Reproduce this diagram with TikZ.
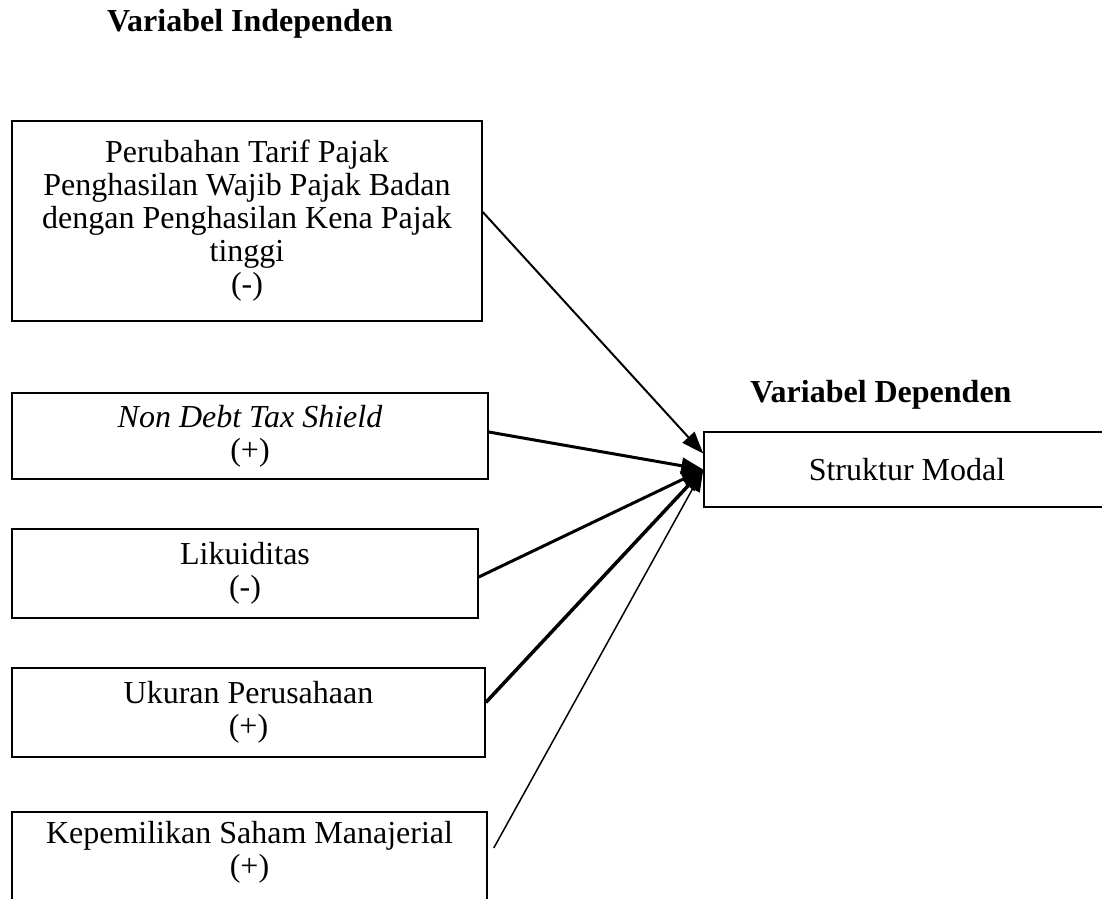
\documentclass[tikz,border=0pt]{standalone}
\usepackage{fontspec}
\setmainfont{Liberation Serif}
\usetikzlibrary{arrows.meta}

\begin{document}
\begin{tikzpicture}[x=1pt,y=-1pt,
  varbox/.style={draw, line width=1.5pt, align=center, inner sep=0pt, font=\fontsize{32}{33}\selectfont},
  head/.style={font=\fontsize{32}{33}\selectfont\bfseries},
  link/.style={-{Triangle[length=22pt,width=16pt]}}]
  \useasboundingbox (0,0) rectangle (1102,898);
  \clip (0,0) rectangle (1102,898);
  \node[head] (indep) at (250,24) {Variabel Independen};
  \node[head] (dep) at (881,395) {Variabel Dependen};
  \node[varbox, minimum width=470pt, minimum height=200pt] (pajak) at (247,221)
    {Perubahan Tarif Pajak\\Penghasilan Wajib Pajak Badan\\dengan Penghasilan Kena Pajak\\tinggi\\(-)};
  \node[varbox, minimum width=476pt, minimum height=86pt] (ndts) at (250,436)
    {\textit{Non Debt Tax Shield}\\(+)};
  \node[varbox, minimum width=466pt, minimum height=89pt] (likuid) at (245,573.5)
    {Likuiditas\\(-)};
  \node[varbox, minimum width=473pt, minimum height=89pt] (ukuran) at (248.5,712.5)
    {Ukuran Perusahaan\\(+)};
  \node[varbox, minimum width=475pt, anchor=north, inner ysep=10pt, text depth=80pt] (milik) at (249.5,811)
    {Kepemilikan Saham Manajerial\\(+)};
  \node[varbox, minimum width=406pt, minimum height=75pt] (modal) at (907,469.5) {Struktur Modal};
  \draw[link, line width=2pt] ([yshift=9pt]pajak.east) -- ([yshift=16pt]modal.west);
  \draw[link, line width=3pt] ([yshift=4pt]ndts.east) -- (modal.west);
  \draw[link, line width=3pt] ([yshift=-3.5pt]likuid.east) -- (modal.west);
  \draw[link, line width=3.5pt] ([yshift=10pt]ukuran.east) -- (modal.west);
  \draw[link, line width=1.5pt] ([xshift=6pt,yshift=-37pt]milik.north east) -- (modal.west);
\end{tikzpicture}
\end{document}
